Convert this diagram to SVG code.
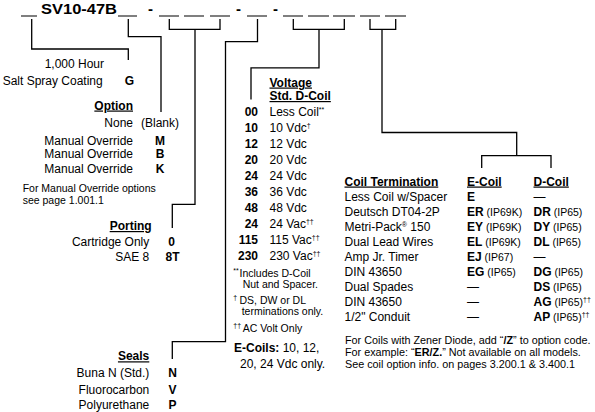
<svg xmlns="http://www.w3.org/2000/svg" width="595" height="412" viewBox="0 0 595 412">
<style>
text { font-family: "Liberation Sans", Arial, Helvetica, sans-serif; font-size: 12px; fill: #000; }
.b { font-weight: bold; }
.u { text-decoration: underline; }
.r { text-anchor: end; }
.m { text-anchor: middle; }
.s { font-size: 10.5px; }
.n { font-size: 10.8px; }
.t { font-size: 12px; }
.sup { font-size: 7px; }
.ip { font-size: 10.5px; font-weight: normal; }
.conn { fill: none; stroke: #000; stroke-width: 1.3; }
.blank { fill: none; stroke: #000; stroke-width: 1.2; }
</style>
<rect width="595" height="412" fill="#fff"/>

<g id="model-code">
  <path class="blank" d="M21,16H37 M118,16H137 M159,16H179 M184,16H204 M210,16H230 M247,16H267 M283,16H303 M308,16H329 M333,16H355 M360,16H380 M385,16H406"/>
  <text x="41" y="14" class="b" style="font-size:15px" textLength="76" lengthAdjust="spacingAndGlyphs">SV10-47B</text>
  <text x="150.5" y="14" class="b m" style="font-size:15px">-</text>
  <text x="238.5" y="14" class="b m" style="font-size:15px">-</text>
  <text x="275.5" y="14" class="b m" style="font-size:15px">-</text>
</g>

<g id="connectors">
  <path class="conn" d="M31.7,19V49H128.3V60"/>
  <path class="conn" d="M128.3,19V36.7H161V112"/>
  <path class="conn" d="M169.3,19V29.3H220V19M195,29.3V204.3H172.3V228"/>
  <path class="conn" d="M257.5,19V41.7H225.5V341.7H172.3V359"/>
  <path class="conn" d="M293.3,19V29.3H344.3V19M319,29.3V67.8H251V99.5"/>
  <path class="conn" d="M370,19V29.3H395.7V19M382,29.3V132.5H516.7V155.7M481.7,168V155.7H551V168"/>
</g>

<g id="coating">
  <text x="104" y="68" class="r">1,000 Hour</text>
  <text x="102.7" y="85" class="r">Salt Spray Coating</text>
  <text x="129.5" y="85" class="b m">G</text>
</g>

<g id="option">
  <text x="133" y="109.5" class="b u r">Option</text>
  <text x="133" y="126.5" class="r">None</text>
  <text x="141" y="126.5">(Blank)</text>
  <text x="133" y="145" class="r">Manual Override</text>
  <text x="160" y="145" class="b m">M</text>
  <text x="133" y="158.3" class="r">Manual Override</text>
  <text x="160" y="158.3" class="b m">B</text>
  <text x="133" y="173.3" class="r">Manual Override</text>
  <text x="160" y="173.3" class="b m">K</text>
  <text x="22.7" y="191.7" class="s">For Manual Override options</text>
  <text x="22.7" y="204.3" class="s">see page 1.001.1</text>
</g>

<g id="porting">
  <text x="151.7" y="230" class="b u r">Porting</text>
  <text x="149.3" y="245.5" class="r">Cartridge Only</text>
  <text x="171.5" y="245.5" class="b m">0</text>
  <text x="149.3" y="260.7" class="r">SAE 8</text>
  <text x="172.5" y="260.7" class="b m">8T</text>
</g>

<g id="seals">
  <text x="149.3" y="360.3" class="b u r">Seals</text>
  <text x="149.3" y="377" class="r">Buna N (Std.)</text>
  <text x="172.5" y="377" class="b m">N</text>
  <text x="149.3" y="394" class="r">Fluorocarbon</text>
  <text x="172.5" y="394" class="b m">V</text>
  <text x="149.3" y="408.5" class="r">Polyurethane</text>
  <text x="172.5" y="408.5" class="b m">P</text>
</g>

<g id="voltage">
  <text x="269.5" y="86.5" class="b u">Voltage</text>
  <text x="269.5" y="100" class="b u">Std. D-Coil</text>
  <text x="258" y="116" class="b r">00</text><text x="269.5" y="116">Less Coil<tspan class="sup" dy="-4">**</tspan></text>
  <text x="258" y="132" class="b r">10</text><text x="269.5" y="132">10 Vdc<tspan class="sup" dy="-4">†</tspan></text>
  <text x="258" y="148" class="b r">12</text><text x="269.5" y="148">12 Vdc</text>
  <text x="258" y="164" class="b r">20</text><text x="269.5" y="164">20 Vdc</text>
  <text x="258" y="180" class="b r">24</text><text x="269.5" y="180">24 Vdc</text>
  <text x="258" y="196" class="b r">36</text><text x="269.5" y="196">36 Vdc</text>
  <text x="258" y="212" class="b r">48</text><text x="269.5" y="212">48 Vdc</text>
  <text x="258" y="227.5" class="b r">24</text><text x="269.5" y="227.5">24 Vac<tspan class="sup" dy="-4">††</tspan></text>
  <text x="258" y="243.5" class="b r">115</text><text x="269.5" y="243.5">115 Vac<tspan class="sup" dy="-4">††</tspan></text>
  <text x="258" y="259.5" class="b r">230</text><text x="269.5" y="259.5">230 Vac<tspan class="sup" dy="-4">††</tspan></text>
  <text x="233.3" y="273" class="sup">**</text>
  <text x="239.5" y="276.5" class="s">Includes D-Coil</text>
  <text x="242.7" y="288" class="s">Nut and Spacer.</text>
  <text x="233.3" y="299.5" class="sup">†</text>
  <text x="239.5" y="303.5" class="s">DS, DW or DL</text>
  <text x="241.7" y="315" class="s">terminations only.</text>
  <text x="233.3" y="328" class="sup">††</text>
  <text x="242.7" y="332" class="s">AC Volt Only</text>
  <text x="234" y="352"><tspan class="b">E-Coils:</tspan> 10, 12,</text>
  <text x="240" y="368">20, 24 Vdc only.</text>
</g>

<g id="coil-termination">
  <text x="344.5" y="185.5" class="b u">Coil Termination</text>
  <text x="467" y="185.5" class="b u">E-Coil</text>
  <text x="533.5" y="185.5" class="b u">D-Coil</text>

  <text x="344.5" y="200.6" class="t">Less Coil w/Spacer</text>
  <text x="467" y="200.6" class="b">E</text>
  <text x="533.5" y="200.6">—</text>

  <text x="344.5" y="215.7" class="t">Deutsch DT04-2P</text>
  <text x="467" y="215.7"><tspan class="b">ER</tspan><tspan class="ip"> (IP69K)</tspan></text>
  <text x="533.5" y="215.7"><tspan class="b">DR</tspan><tspan class="ip"> (IP65)</tspan></text>

  <text x="344.5" y="230.8" class="t">Metri-Pack<tspan class="sup" dy="-4">®</tspan><tspan dy="4"> 150</tspan></text>
  <text x="467" y="230.8"><tspan class="b">EY</tspan><tspan class="ip"> (IP69K)</tspan></text>
  <text x="533.5" y="230.8"><tspan class="b">DY</tspan><tspan class="ip"> (IP65)</tspan></text>

  <text x="344.5" y="245.9" class="t">Dual Lead Wires</text>
  <text x="467" y="245.9"><tspan class="b">EL</tspan><tspan class="ip"> (IP69K)</tspan></text>
  <text x="533.5" y="245.9"><tspan class="b">DL</tspan><tspan class="ip"> (IP65)</tspan></text>

  <text x="344.5" y="261" class="t">Amp Jr. Timer</text>
  <text x="467" y="261"><tspan class="b">EJ</tspan><tspan class="ip"> (IP67)</tspan></text>
  <text x="533.5" y="261">—</text>

  <text x="344.5" y="276.1" class="t">DIN 43650</text>
  <text x="467" y="276.1"><tspan class="b">EG</tspan><tspan class="ip"> (IP65)</tspan></text>
  <text x="533.5" y="276.1"><tspan class="b">DG</tspan><tspan class="ip"> (IP65)</tspan></text>

  <text x="344.5" y="291.2" class="t">Dual Spades</text>
  <text x="467" y="291.2">—</text>
  <text x="533.5" y="291.2"><tspan class="b">DS</tspan><tspan class="ip"> (IP65)</tspan></text>

  <text x="344.5" y="306.3" class="t">DIN 43650</text>
  <text x="467" y="306.3">—</text>
  <text x="533.5" y="306.3"><tspan class="b">AG</tspan><tspan class="ip"> (IP65)</tspan><tspan class="sup" dy="-4">††</tspan></text>

  <text x="344.5" y="321.4" class="t">1/2" Conduit</text>
  <text x="467" y="321.4">—</text>
  <text x="533.5" y="321.4"><tspan class="b">AP</tspan><tspan class="ip"> (IP65)</tspan><tspan class="sup" dy="-4">††</tspan></text>

  <text x="345" y="344" class="n">For Coils with Zener Diode, add “<tspan class="b">/Z</tspan>” to option code.</text>
  <text x="345" y="356" class="n">For example: “<tspan class="b">ER/Z.</tspan>” Not available on all models.</text>
  <text x="345" y="367.7" class="n">See coil option info. on pages 3.200.1 &amp; 3.400.1</text>
</g>
</svg>
